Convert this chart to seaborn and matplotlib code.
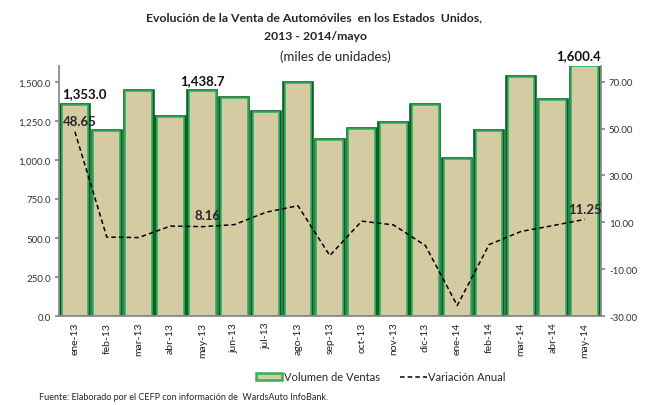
import numpy as np
import pandas as pd
import matplotlib
matplotlib.use('Agg')
import matplotlib.pyplot as plt
import seaborn as sns
from matplotlib.patches import Patch
from matplotlib.lines import Line2D

# Datos
meses = ['ene-13', 'feb-13', 'mar-13', 'abr-13', 'may-13', 'jun-13', 'jul-13', 'ago-13', 'sep-13',
         'oct-13', 'nov-13', 'dic-13', 'ene-14', 'feb-14', 'mar-14', 'abr-14', 'may-14']
ventas = [1353.0, 1185, 1445, 1275, 1438.7, 1396, 1307, 1495, 1130,
          1200, 1236, 1353, 1004, 1185, 1530, 1381, 1600.4]
variacion = [48.65, 3.7, 3.5, 8.4, 8.16, 9.0, 14.3, 17.1, -4.2,
             10.5, 8.9, 0.1, -25.5, 0.5, 6.1, 8.6, 11.25]

sns.set_theme(style='white')
plt.rcParams['font.family'] = ['Lato', 'DejaVu Sans']

df = pd.DataFrame({'Mes': meses, 'Ventas': ventas, 'Variacion': variacion})

fig = plt.figure(figsize=(6.51, 4.06), dpi=100)
ax = fig.add_axes([0.0906, 0.219, 0.832, 0.616])

verde = '#2DB35A'
verde_osc = '#0E5A28'
arena = '#D4CBA3'
# borde oscuro debajo y borde verde claro encima
sns.barplot(data=df, x='Mes', y='Ventas', color=arena, edgecolor=verde_osc,
            linewidth=2.6, width=0.88, saturation=1, ax=ax)
sns.barplot(data=df, x='Mes', y='Ventas', color=arena, edgecolor=verde,
            linewidth=1.2, width=0.84, saturation=1, ax=ax)
ax.set_ylim(0, 1602)
ax.set_yticks(np.arange(0, 1501, 250))
ax.set_yticklabels([f'{v:,.1f}' for v in np.arange(0, 1501, 250)], fontsize=7, color='#333333')
ax.set_xlabel('')
ax.set_ylabel('')
ax.tick_params(axis='x', rotation=90, labelsize=7.5, colors='#222222', length=0, pad=4)
ax.tick_params(axis='y', length=3, color='#888888', pad=3)
ax.set_xlim(-0.5, len(meses) - 0.5)
for s in ['top', 'right']:
    ax.spines[s].set_visible(False)
ax.spines['left'].set_color('#888888')
ax.spines['bottom'].set_color('#888888')

# Etiquetas de barras
desp = {0: 0.3, 4: 0.0, 16: -0.2}
for i in [0, 4, 16]:
    ax.text(i + desp[i], ventas[i] + 35, f'{ventas[i]:,.1f}', ha='center', va='bottom',
            fontsize=9.5, fontweight='bold', color='#111111')

# Eje derecho: variación anual
ax2 = ax.twinx()
pos = np.arange(len(meses))
sns.lineplot(x=pos, y=variacion, color='black', linestyle=(0, (3, 2)), linewidth=1.1, ax=ax2)
ax2.set_ylim(-30, 76.7)
ax2.set_yticks(np.arange(-30, 71, 20))
ax2.set_yticklabels([f'{v:.2f}' for v in np.arange(-30, 71, 20)], fontsize=7, color='#333333')
ax2.tick_params(axis='y', length=3, color='#888888', pad=3)
for s in ['top', 'left', 'bottom']:
    ax2.spines[s].set_visible(False)
ax2.spines['right'].set_color('#888888')

ax2.text(0.15, variacion[0] + 2.2, '48.65', ha='center', va='bottom', fontsize=9.5, fontweight='bold')
ax2.text(0.15 + 4, variacion[4] + 2.2, '8.16', ha='center', va='bottom', fontsize=9.5, fontweight='bold')
ax2.text(16, variacion[16] + 2.0, '11.25', ha='center', va='bottom', fontsize=9.5, fontweight='bold')

# Títulos
fig.text(0.482, 0.955, 'Evolución de la Venta de Automóviles  en los Estados  Unidos,', ha='center',
         va='center', fontsize=8.8, fontweight='bold')
fig.text(0.484, 0.91, '2013 - 2014/mayo', ha='center', va='center', fontsize=8.8, fontweight='bold')
fig.text(0.515, 0.86, '(miles de unidades)', ha='center', va='center', fontsize=9.5)

# Leyenda
handles = [Patch(facecolor=arena, edgecolor=verde, linewidth=1.8, label='Volumen de Ventas'),
           Line2D([0], [0], color='black', linestyle=(0, (3, 2)), linewidth=1.1, label='Variación Anual')]
fig.legend(handles=handles, loc='center', bbox_to_anchor=(0.585, 0.069), ncol=2, frameon=False,
           fontsize=8, handlelength=2.4, handletextpad=0.15, columnspacing=1.8)

fig.text(0.06, 0.022, 'Fuente: Elaborado por el CEFP con información de  WardsAuto InfoBank.',
         ha='left', va='center', fontsize=6.5)

fig.savefig('out.png', dpi=100)
